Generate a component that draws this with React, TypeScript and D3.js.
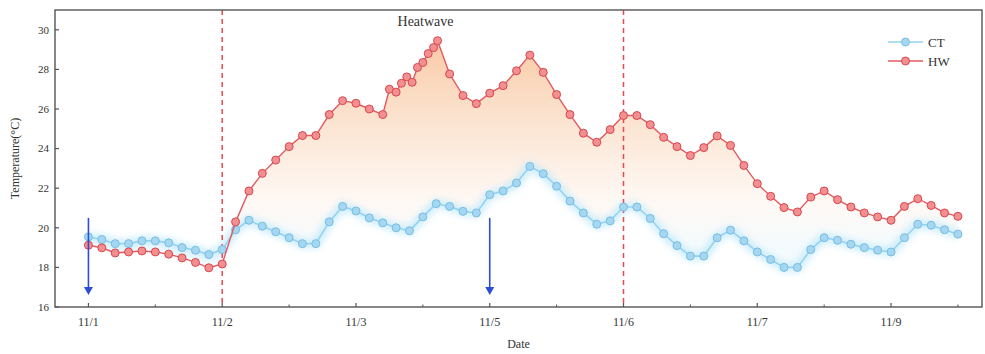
import React, { useEffect } from "react";
import * as d3 from "d3";

// x positions are in "steps": 10 steps between two labelled ticks
const tickSteps = [0, 10, 20, 30, 40, 50, 60];
const tickLabels = ["11/1", "11/2", "11/3", "11/5", "11/6", "11/7", "11/9"];
const minorSteps = [5, 15, 25, 35, 45, 55, 65];
const yTicks = [16, 18, 20, 22, 24, 26, 28, 30];

const ctTemp = [
  19.54, 19.41, 19.2, 19.2, 19.34, 19.34, 19.24, 19.0, 18.87, 18.65,
  18.9, 19.9, 20.38, 20.08, 19.8, 19.5, 19.2, 19.2, 20.3, 21.08,
  20.85, 20.5, 20.25, 20.0, 19.85, 20.55, 21.22, 21.08, 20.83, 20.75,
  21.67, 21.86, 22.26, 23.1, 22.73, 22.1, 21.35, 20.75, 20.18, 20.35,
  21.05, 21.05, 20.47, 19.7, 19.1, 18.57, 18.57, 19.5, 19.88, 19.34,
  18.78, 18.4, 18.0, 18.0, 18.9, 19.5, 19.37, 19.17, 19.0, 18.87,
  18.78, 19.5, 20.18, 20.13, 19.9, 19.68,
];

const hwStep = [
  0, 1, 2, 3, 4, 5, 6, 7, 8, 9, 10, 11, 12, 13, 14, 15, 16, 17, 18, 19, 20, 21, 22,
  22.5, 23, 23.4, 23.8, 24.2, 24.6, 25, 25.4, 25.8, 26.1,
  27, 28, 29, 30, 31, 32, 33, 34, 35, 36, 37, 38, 39, 40, 41, 42, 43, 44, 45,
  46, 47, 48, 49, 50, 51, 52, 53, 54, 55, 56, 57, 58, 59, 60, 61, 62, 63, 64, 65,
];
const hwTemp = [
  19.12, 18.99, 18.73, 18.78, 18.83, 18.78, 18.67, 18.48, 18.25, 17.98, 18.17,
  20.3, 21.86, 22.75, 23.42, 24.1, 24.66, 24.66, 25.72, 26.42, 26.29, 26.0, 25.72,
  27.0, 26.85, 27.3, 27.62, 27.35, 28.1, 28.35, 28.8, 29.1, 29.45,
  27.77, 26.68, 26.27, 26.8, 27.18, 27.93, 28.72, 27.85, 26.73, 25.72, 24.78,
  24.32, 24.96, 25.67, 25.67, 25.21, 24.57, 24.1, 23.65, 24.05, 24.64, 24.16,
  23.15, 22.23, 21.59, 21.02, 20.8, 21.55, 21.86, 21.42, 21.05, 20.75, 20.55,
  20.38, 21.08, 21.47, 21.13, 20.75, 20.58,
];

const dashSteps = [10, 40];
const arrowSteps = [0, 30];
const arrowFrom = 20.5;
const arrowTo = 16.6;

const W = 985;
const H = 354;
const font = "'Liberation Serif', 'Times New Roman', serif";

export default function App() {
  useEffect(() => {
    document.body.style.margin = "0";
  }, []);

  const x = d3.scaleLinear().domain([-2.5, 66.8]).range([55, 982]);
  const y = d3.scaleLinear().domain([16, 31]).range([307, 10]);

  const ct = ctTemp.map((v, i) => [i, v] as [number, number]);
  const hw = hwStep.map((s, i) => [s, hwTemp[i]] as [number, number]);

  const line = d3
    .line<[number, number]>()
    .x((d) => x(d[0]))
    .y((d) => y(d[1]));

  const bandPts = hw.concat(ct.slice().reverse());
  const bandPath = line(bandPts) + "Z";

  const [x0, x1] = x.range();
  const [yb, yt] = y.range();

  return (
    <svg width={W} height={H} style={{ display: "block", background: "#fff" }}>
      <defs>
        <linearGradient id="heat" gradientUnits="userSpaceOnUse" x1="0" x2="0" y1={y(30)} y2={y(19)}>
          <stop offset="0" stopColor="#f6ae78" stopOpacity="0.72" />
          <stop offset="0.45" stopColor="#f9d0b0" stopOpacity="0.55" />
          <stop offset="0.8" stopColor="#fdf1e8" stopOpacity="0.45" />
          <stop offset="1" stopColor="#eaf7fd" stopOpacity="0.55" />
        </linearGradient>
        <filter id="blur" x="-5%" y="-50%" width="110%" height="200%">
          <feGaussianBlur stdDeviation="3" />
        </filter>
      </defs>

      {/* fill between the series */}
      <path d={bandPath} fill="url(#heat)" stroke="none" />

      {/* soft glow around CT */}
      <path d={line(ct) || ""} fill="none" stroke="#c6ebfa" strokeWidth={10} opacity={0.8} filter="url(#blur)" />

      {/* heatwave limits */}
      {dashSteps.map((s) => (
        <line key={s} x1={x(s)} x2={x(s)} y1={yt} y2={yb} stroke="#e8484f" strokeWidth={1.5} strokeDasharray="5,4" />
      ))}

      {/* frame */}
      <rect x={x0} y={yt} width={x1 - x0} height={yb - yt} fill="none" stroke="#555" strokeWidth={1.4} />

      {/* y ticks */}
      {yTicks.map((t) => (
        <g key={t}>
          <line x1={x0} x2={x0 + 4} y1={y(t)} y2={y(t)} stroke="#555" strokeWidth={1.2} />
          <text x={x0 - 6} y={y(t)} dy="0.35em" textAnchor="end" fontSize={11} fontFamily={font} fill="#333">
            {t}
          </text>
        </g>
      ))}

      {/* x ticks */}
      {tickSteps.map((s, i) => (
        <g key={s}>
          <line x1={x(s)} x2={x(s)} y1={yb} y2={yb - 4} stroke="#555" strokeWidth={1.2} />
          <text x={x(s)} y={yb + 19} textAnchor="middle" fontSize={12} fontFamily={font} fill="#333">
            {tickLabels[i]}
          </text>
        </g>
      ))}
      {minorSteps.map((s) => (
        <line key={s} x1={x(s)} x2={x(s)} y1={yb} y2={yb - 2.5} stroke="#555" strokeWidth={1} />
      ))}

      {/* axis titles */}
      <text
        transform={`translate(19,${(yt + yb) / 2}) rotate(-90)`}
        textAnchor="middle"
        fontSize={12}
        fontFamily={font}
        fill="#333"
      >
        Temperature(°C)
      </text>
      <text x={(x0 + x1) / 2} y={348} textAnchor="middle" fontSize={12} fontFamily={font} fill="#333">
        Date
      </text>
      <text x={x(25.2)} y={26} textAnchor="middle" fontSize={14} fontFamily={font} fill="#333">
        Heatwave
      </text>

      {/* CT */}
      <path d={line(ct) || ""} fill="none" stroke="#94d2f2" strokeWidth={1.6} />
      {ct.map((d, i) => (
        <circle key={"c" + i} cx={x(d[0])} cy={y(d[1])} r={4} fill="#a6d7f0" stroke="#78bde3" strokeWidth={1} />
      ))}

      {/* HW */}
      <path d={line(hw) || ""} fill="none" stroke="#e35a60" strokeWidth={1.4} />
      {hw.map((d, i) => (
        <circle key={"h" + i} cx={x(d[0])} cy={y(d[1])} r={4} fill="#f28f90" stroke="#d8474f" strokeWidth={1} />
      ))}

      {/* arrows */}
      {arrowSteps.map((s) => (
        <g key={"a" + s}>
          <line x1={x(s)} x2={x(s)} y1={y(arrowFrom)} y2={y(arrowTo) - 6} stroke="#2f4cd6" strokeWidth={1.6} />
          <path
            d={`M${x(s) - 4.5},${y(arrowTo) - 8} L${x(s) + 4.5},${y(arrowTo) - 8} L${x(s)},${y(arrowTo)} Z`}
            fill="#2f4cd6"
          />
        </g>
      ))}

      {/* legend */}
      <g fontFamily={font} fontSize={13} fill="#333">
        <line x1={888} x2={923} y1={42} y2={42} stroke="#94d2f2" strokeWidth={1.6} />
        <circle cx={905.5} cy={42} r={4} fill="#a6d7f0" stroke="#78bde3" />
        <text x={928} y={42} dy="0.35em">CT</text>
        <line x1={888} x2={923} y1={61} y2={61} stroke="#e35a60" strokeWidth={1.4} />
        <circle cx={905.5} cy={61} r={4} fill="#f28f90" stroke="#d8474f" />
        <text x={928} y={61} dy="0.35em">HW</text>
      </g>
    </svg>
  );
}
